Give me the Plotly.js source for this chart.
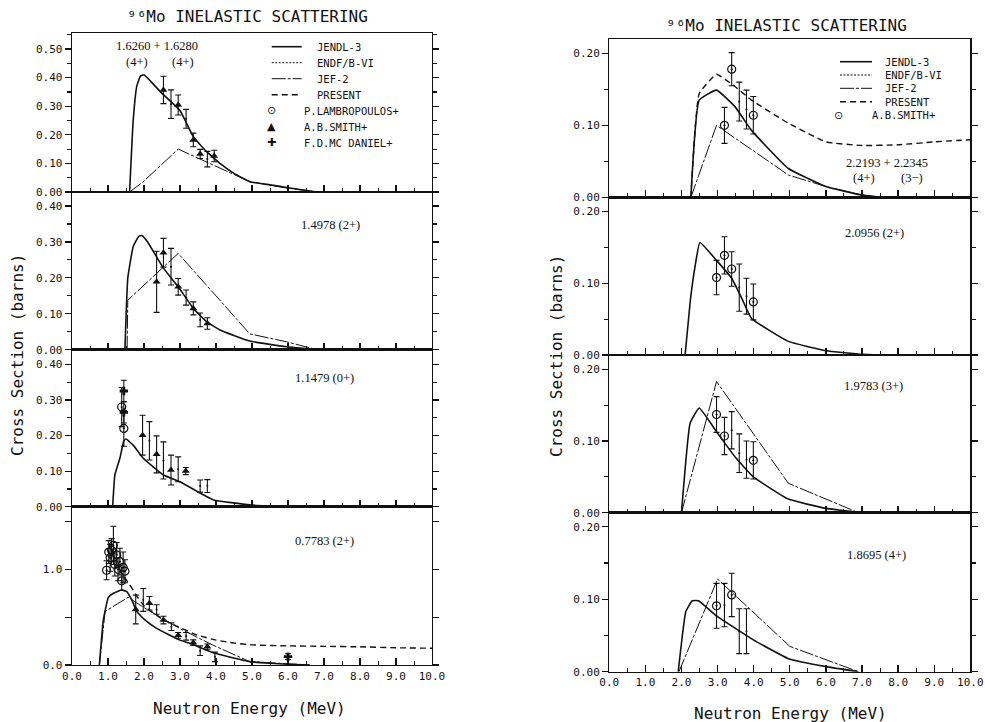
<!DOCTYPE html>
<html><head><meta charset="utf-8">
<script src="https://cdn.plot.ly/plotly-3.0.1.min.js"></script>
<style>html,body{margin:0;padding:0;background:#fff}</style>
</head><body>
<div id="chart" style="width:985px;height:722px"></div>
<script>
// ---------------- DATA ----------------
const titleText = "⁹⁶Mo INELASTIC SCATTERING";
const xTitle = "Neutron Energy (MeV)";
const yTitle = "Cross Section (barns)";
const xTickVals = [0,1,2,3,4,5,6,7,8,9,10];
const legendLeftNames = ["JENDL-3","ENDF/B-VI","JEF-2","PRESENT","P.LAMBROPOULOS+","A.B.SMITH+","F.D.MC DANIEL+"];
const legendRightNames = ["JENDL-3","ENDF/B-VI","JEF-2","PRESENT","A.B.SMITH+"];
const levelLabels = ["1.6260 + 1.6280","1.4978 (2+)","1.1479 (0+)","0.7783 (2+)","2.2193 + 2.2345","2.0956 (2+)","1.9783 (3+)","1.8695 (4+)"];
const spinLabels = ["(4+)","(4+)","(4+)","(3−)"];

// Left panel 1 : 1.6260 + 1.6280
const L1_jendl_x = [1.60,1.70,1.80,1.90,2.00,2.20,2.50,3.00,3.37,3.74,4.11,4.50,4.94,5.50,5.96,6.80];
const L1_jendl_y = [0,0.25,0.37,0.405,0.41,0.385,0.345,0.285,0.193,0.141,0.10,0.065,0.036,0.025,0.016,0];
const L1_jef_x = [1.60,1.98,2.95,4.94,5.96,6.80];
const L1_jef_y = [0,0.036,0.15,0.036,0.014,0];
const L1_smith_x = [2.54,2.95,3.37,3.56,3.95];
const L1_smith_y = [0.357,0.304,0.182,0.133,0.126];
const L1_smith_e = [0.048,0.035,0.024,0.016,0.02];
const L1_bar_x = [2.75,3.17,3.76];
const L1_bar_y = [0.307,0.256,0.115];
const L1_bar_e = [0.05,0.033,0.027];

// Left panel 2 : 1.4978 (2+)
const L2_jendl_x = [1.47,1.55,1.70,1.85,1.94,2.10,2.54,2.95,3.37,3.74,4.11,4.94,5.96,6.80];
const L2_jendl_y = [0,0.20,0.287,0.315,0.318,0.30,0.227,0.175,0.115,0.078,0.055,0.024,0.008,0];
const L2_jef_x = [1.53,1.55,2.95,4.94,5.96,6.80];
const L2_jef_y = [0,0.138,0.268,0.044,0.022,0];
const L2_smith_x = [2.35,2.54,2.95,3.37,3.76];
const L2_smith_y = [0.189,0.27,0.175,0.115,0.073];
const L2_smith_e = [0.085,0.04,0.023,0.018,0.016];
const L2_bar_x = [2.75,3.17,3.56];
const L2_bar_y = [0.231,0.145,0.083];
const L2_bar_e = [0.051,0.021,0.019];

// Left panel 3 : 1.1479 (0+)
const L3_jendl_x = [1.13,1.19,1.33,1.44,1.50,1.70,1.98,2.54,3.00,3.56,3.93,4.94,6.00];
const L3_jendl_y = [0,0.089,0.136,0.185,0.19,0.173,0.136,0.089,0.07,0.038,0.019,0.005,0];
const L3_smith_x = [1.96,2.35,2.75,3.16];
const L3_smith_y = [0.201,0.147,0.103,0.10];
const L3_smith_e = [0.056,0.052,0.042,0.01];
const L3_bar_x = [2.15,2.54,2.95,3.56,3.76];
const L3_bar_y = [0.185,0.13,0.105,0.058,0.058];
const L3_bar_e = [0.054,0.052,0.035,0.017,0.018];
const L3_lamb_x = [1.38,1.44];
const L3_lamb_y = [0.28,0.22];
const L3_lamb_e = [0.055,0.05];
const L3_mcd_x = [1.44,1.44];
const L3_mcd_y = [0.325,0.265];
const L3_mcd_e = [0.03,0.03];

// Left panel 4 : 0.7783 (2+)
const L4_jendl_x = [0.76,0.87,1.01,1.15,1.38,1.52,1.66,1.80,2.00,2.35,3.00,3.28,3.97,4.94,5.50,6.00,6.60];
const L4_jendl_y = [0,0.47,0.707,0.75,0.784,0.767,0.68,0.56,0.48,0.383,0.26,0.226,0.122,0.035,0.018,0.008,0];
const L4_jef_x = [0.76,0.92,1.56,2.00,3.00,3.90,4.94,6.00,6.60];
const L4_jef_y = [0,0.56,0.707,0.60,0.38,0.21,0.035,0.01,0];
const L4_present_x = [1.45,1.60,1.80,2.00,2.50,3.00,3.50,4.00,4.50,5.00,6.00,7.00,8.00,9.00,10.00];
const L4_present_y = [0.92,0.84,0.72,0.62,0.48,0.39,0.31,0.26,0.23,0.21,0.20,0.195,0.19,0.18,0.175];
const L4_lamb_x = [0.96,1.02,1.06,1.10,1.15,1.19,1.24,1.28,1.33,1.38,1.42,1.47];
const L4_lamb_y = [0.99,1.18,1.12,1.20,1.25,1.05,1.15,1.00,1.08,0.88,1.02,0.98];
const L4_lamb_e = [0.10,0.12,0.14,0.12,0.20,0.12,0.13,0.12,0.14,0.10,0.16,0.12];
const L4_smith_x = [1.77,2.15,2.54,2.95,3.37,3.76];
const L4_smith_y = [0.58,0.645,0.47,0.31,0.233,0.19];
const L4_smith_e = [0.15,0.07,0.04,0.03,0.03,0.03];
const L4_bar_x = [1.98,2.35,2.76,3.17,3.56,3.97];
const L4_bar_y = [0.68,0.58,0.40,0.30,0.15,0.085];
const L4_bar_e = [0.12,0.05,0.04,0.04,0.05,0.05];
const L4_mcd_x = [6.0];
const L4_mcd_y = [0.087];
const L4_mcd_e = [0.03];

// Right panel 1 : 2.2193 + 2.2345
const R1_jendl_x = [2.26,2.49,2.97,3.48,3.94,4.96,6.00,7.00,7.50];
const R1_jendl_y = [0,0.135,0.149,0.126,0.093,0.04,0.015,0.003,0];
const R1_jef_x = [2.26,2.97,4.96,6.00,7.00,7.50];
const R1_jef_y = [0,0.10,0.031,0.015,0.003,0];
const R1_present_x = [2.26,2.49,2.97,3.48,3.94,4.96,6.00,7.00,8.00,9.00,10.00];
const R1_present_y = [0,0.144,0.171,0.154,0.135,0.103,0.077,0.072,0.073,0.077,0.08];
const R1_smith_x = [3.19,3.39,3.99];
const R1_smith_y = [0.10,0.178,0.114];
const R1_smith_e = [0.025,0.023,0.026];
const R1_bar_x = [3.6,3.8];
const R1_bar_y = [0.133,0.122];
const R1_bar_e = [0.027,0.027];

// Right panel 2 : 2.0956 (2+)
const R2_jendl_x = [2.10,2.24,2.38,2.51,2.97,3.39,3.67,3.94,4.96,6.00,7.00,7.50];
const R2_jendl_y = [0,0.074,0.125,0.157,0.132,0.107,0.079,0.051,0.019,0.006,0.001,0];
const R2_smith_x = [2.97,3.19,3.39,3.99];
const R2_smith_y = [0.108,0.139,0.12,0.074];
const R2_smith_e = [0.024,0.026,0.024,0.025];
const R2_bar_x = [3.6,3.8];
const R2_bar_y = [0.094,0.082];
const R2_bar_e = [0.033,0.025];

// Right panel 3 : 1.9783 (3+)
const R3_jendl_x = [2.00,2.24,2.49,2.97,3.48,3.99,4.96,6.00,7.00];
const R3_jendl_y = [0,0.125,0.146,0.113,0.078,0.05,0.019,0.006,0];
const R3_jef_x = [2.00,2.97,4.96,6.90];
const R3_jef_y = [0,0.183,0.041,0];
const R3_smith_x = [2.97,3.19,3.99];
const R3_smith_y = [0.137,0.107,0.073];
const R3_smith_e = [0.025,0.026,0.026];
const R3_bar_x = [3.39,3.6,3.8];
const R3_bar_y = [0.115,0.083,0.074];
const R3_bar_e = [0.026,0.027,0.026];

// Right panel 4 : 1.8695 (4+)
const R4_jendl_x = [1.91,2.12,2.30,2.47,2.97,3.99,4.96,6.00,6.90];
const R4_jendl_y = [0,0.083,0.098,0.098,0.077,0.044,0.018,0.007,0];
const R4_jef_x = [1.93,3.00,5.00,6.90];
const R4_jef_y = [0,0.128,0.035,0];
const R4_smith_x = [2.97,3.39];
const R4_smith_y = [0.091,0.106];
const R4_smith_e = [0.031,0.03];
const R4_bar_x = [3.19,3.6,3.8];
const R4_bar_y = [0.092,0.056,0.056];
const R4_bar_e = [0.03,0.031,0.031];

// ---------------- LAYOUT HELPERS ----------------
const W = 985, H = 722;
const fx = p => p / W;
const fy = p => 1 - p / H;
const MONO = "DejaVu Sans Mono";
const SERIF = "Liberation Serif";
const INK = "#111";

const styles = {
  jendl: {color: INK, width: 1.6, dash: "solid"},
  endf: {color: INK, width: 1.0, dash: "2px,1.5px"},
  jef: {color: INK, width: 1.0, dash: "14px,2px,3px,2px"},
  present: {color: INK, width: 1.4, dash: "6px,4px"}
};

const traces = [];
function ax(i){ return i === 1 ? ["x","y"] : ["x"+i, "y"+i]; }
function addLine(x, y, i, st){
  const [xa, ya] = ax(i);
  traces.push({type:"scatter", mode:"lines", x, y, xaxis:xa, yaxis:ya, line: Object.assign({shape:"spline", smoothing:0.35}, st), hoverinfo:"skip", showlegend:false});
}
function addLinear(x, y, i, st){
  const [xa, ya] = ax(i);
  traces.push({type:"scatter", mode:"lines", x, y, xaxis:xa, yaxis:ya, line: st, hoverinfo:"skip", showlegend:false});
}
function addPts(x, y, e, i, marker){
  const [xa, ya] = ax(i);
  traces.push({type:"scatter", mode:"markers", x, y, xaxis:xa, yaxis:ya, marker,
    error_y:{type:"data", array:e, visible:true, color:INK, thickness:1.1, width:3},
    hoverinfo:"skip", showlegend:false});
}
const mTri = {symbol:"triangle-up", size:7, color:INK};
const mCirc = {symbol:"circle-open-dot", size:8, color:INK, line:{width:1.2, color:INK}};
const mCross = {symbol:"cross", size:7, color:INK};
const mBar = {symbol:"circle", size:2, color:INK};

// Left
addLine(L1_jendl_x, L1_jendl_y, 1, styles.jendl);
addLinear(L1_jef_x, L1_jef_y, 1, styles.jef);
addPts(L1_bar_x, L1_bar_y, L1_bar_e, 1, mBar);
addPts(L1_smith_x, L1_smith_y, L1_smith_e, 1, mTri);

addLine(L2_jendl_x, L2_jendl_y, 2, styles.jendl);
addLinear(L2_jef_x, L2_jef_y, 2, styles.jef);
addPts(L2_bar_x, L2_bar_y, L2_bar_e, 2, mBar);
addPts(L2_smith_x, L2_smith_y, L2_smith_e, 2, mTri);

addLine(L3_jendl_x, L3_jendl_y, 3, styles.jendl);
addPts(L3_bar_x, L3_bar_y, L3_bar_e, 3, mBar);
addPts(L3_smith_x, L3_smith_y, L3_smith_e, 3, mTri);
addPts(L3_lamb_x, L3_lamb_y, L3_lamb_e, 3, mCirc);
addPts(L3_mcd_x, L3_mcd_y, L3_mcd_e, 3, mCross);

addLine(L4_jendl_x, L4_jendl_y, 4, styles.jendl);
addLinear(L4_jef_x, L4_jef_y, 4, styles.jef);
addLine(L4_present_x, L4_present_y, 4, styles.present);
addPts(L4_lamb_x, L4_lamb_y, L4_lamb_e, 4, mCirc);
addPts(L4_bar_x, L4_bar_y, L4_bar_e, 4, mBar);
addPts(L4_smith_x, L4_smith_y, L4_smith_e, 4, mTri);
addPts(L4_mcd_x, L4_mcd_y, L4_mcd_e, 4, mCross);

// Right
addLine(R1_jendl_x, R1_jendl_y, 5, styles.jendl);
addLinear(R1_jef_x, R1_jef_y, 5, styles.jef);
addLine(R1_present_x, R1_present_y, 5, styles.present);
addPts(R1_bar_x, R1_bar_y, R1_bar_e, 5, mBar);
addPts(R1_smith_x, R1_smith_y, R1_smith_e, 5, mCirc);

addLine(R2_jendl_x, R2_jendl_y, 6, styles.jendl);
addPts(R2_bar_x, R2_bar_y, R2_bar_e, 6, mBar);
addPts(R2_smith_x, R2_smith_y, R2_smith_e, 6, mCirc);

addLine(R3_jendl_x, R3_jendl_y, 7, styles.jendl);
addLinear(R3_jef_x, R3_jef_y, 7, styles.jef);
addPts(R3_bar_x, R3_bar_y, R3_bar_e, 7, mBar);
addPts(R3_smith_x, R3_smith_y, R3_smith_e, 7, mCirc);

addLine(R4_jendl_x, R4_jendl_y, 8, styles.jendl);
addLinear(R4_jef_x, R4_jef_y, 8, styles.jef);
addPts(R4_bar_x, R4_bar_y, R4_bar_e, 8, mBar);
addPts(R4_smith_x, R4_smith_y, R4_smith_e, 8, mCirc);

// ---------------- AXES ----------------
const layout = {
  width: W, height: H, margin:{l:0,r:0,t:0,b:0},
  paper_bgcolor:"#fff", plot_bgcolor:"#fff", showlegend:false,
  font:{family:MONO, size:11, color:INK},
  annotations:[], shapes:[]
};
const colX = {L:[72,432], R:[609.3,970.3]};
const panels = [
  {i:1, col:"L", pix:[33,192], top:0.556, kind:"a"},
  {i:2, col:"L", pix:[192,349.7], top:0.439, kind:"a"},
  {i:3, col:"L", pix:[349.7,506.7], top:0.441, kind:"a"},
  {i:4, col:"L", pix:[506.7,665], top:1.654, kind:"b", bottom:true},
  {i:5, col:"R", pix:[39,197.3], top:0.22, kind:"c"},
  {i:6, col:"R", pix:[197.3,355], top:0.22, kind:"c"},
  {i:7, col:"R", pix:[355,512.7], top:0.22, kind:"c"},
  {i:8, col:"R", pix:[512.7,671.7], top:0.2196, kind:"c", bottom:true}
];
panels.forEach(p => {
  const xk = p.i === 1 ? "xaxis" : "xaxis" + p.i;
  const yk = p.i === 1 ? "yaxis" : "yaxis" + p.i;
  const yref = p.i === 1 ? "y" : "y" + p.i;
  const xref = p.i === 1 ? "x" : "x" + p.i;
  layout[xk] = {
    domain:[fx(colX[p.col][0]), fx(colX[p.col][1])], range:[0,10], anchor:yref,
    showline:true, mirror:true, linecolor:INK, linewidth:1.3,
    ticks:"inside", tickvals:xTickVals, ticklen:7, tickwidth:1.2, tickcolor:INK,
    minor:{tickvals:[0.5,1.5,2.5,3.5,4.5,5.5,6.5,7.5,8.5,9.5], ticks:"inside", ticklen:4, tickwidth:1, tickcolor:INK},
    showticklabels: !!p.bottom, tickformat:".1f",
    tickfont:{family:MONO, size:11, color:INK},
    showgrid:false, zeroline:false, fixedrange:true
  };
  const y = {
    domain:[fy(p.pix[1]), fy(p.pix[0])], range:[0,p.top], anchor:xref,
    showline:true, mirror:"ticks", linecolor:INK, linewidth:1.3,
    ticks:"outside", ticklen:6, tickwidth:1.2, tickcolor:INK,
    tickfont:{family:MONO, size:11, color:INK},
    showgrid:false, zeroline:false, fixedrange:true
  };
  if (p.kind === "a") {
    y.tickvals = [0,0.1,0.2,0.3,0.4,0.5].filter(v => v <= p.top);
    y.tickformat = ".2f";
    y.minor = {tickvals:[0.05,0.15,0.25,0.35,0.45,0.55].filter(v=>v<=p.top), ticks:"outside", ticklen:4, tickcolor:INK};
  } else if (p.kind === "b") {
    y.tickvals = [0,1];
    y.tickformat = ".1f";
    y.minor = {tickvals:[0.5,1.5], ticks:"outside", ticklen:6, tickwidth:1.2, tickcolor:INK};
  } else {
    y.tickvals = [0,0.1,0.2];
    y.tickformat = ".2f";
    y.minor = {tickvals:[0.05,0.15], ticks:"outside", ticklen:4, tickcolor:INK};
  }
  layout[yk] = y;
});

// ---------------- TEXT ----------------
const A = layout.annotations;
function txt(text, x, y, font, extra){
  A.push(Object.assign({text, x:fx(x), y:fy(y), xref:"paper", yref:"paper", showarrow:false, xanchor:"center", yanchor:"middle", font}, extra||{}));
}
const fTitle = {family:MONO, size:16, color:INK};
txt(titleText, 247, 17, fTitle);
txt(titleText, 786, 25, fTitle);
txt(xTitle, 250, 708, fTitle);
txt(xTitle, 790, 713, fTitle);
txt(yTitle, 17, 355, fTitle, {textangle:-90});
txt(yTitle, 557, 356, fTitle, {textangle:-90});

const fSerif = {family:SERIF, size:12.5, color:INK};
txt(levelLabels[0], 157, 46, fSerif);
txt(spinLabels[0], 137, 62, fSerif);
txt(spinLabels[1], 183, 62, fSerif);
txt(levelLabels[1], 330, 225, fSerif);
txt(levelLabels[2], 324, 378, fSerif);
txt(levelLabels[3], 324, 541, fSerif);
txt(levelLabels[4], 887, 163, fSerif);
txt(spinLabels[2], 864, 178, fSerif);
txt(spinLabels[3], 912, 178, fSerif);
txt(levelLabels[5], 874, 233, fSerif);
txt(levelLabels[6], 873, 386, fSerif);
txt(levelLabels[7], 876, 555, fSerif);

// ---------------- LEGENDS (drawn) ----------------
const fLeg = {family:MONO, size:10.5, color:INK};
const lineStyles = [styles.jendl, styles.endf, styles.jef, styles.present];
function legLine(x0, x1, y, st){
  layout.shapes.push({type:"line", xref:"paper", yref:"paper", x0:fx(x0), x1:fx(x1), y0:fy(y), y1:fy(y),
    line:{color:st.color, width:st.width, dash:st.dash}});
}
const symChars = ["⊙","▲","✚"];
const leftRows = [46.7,62.7,78.7,94.7,110.7,126.7,142.7];
for (let k=0;k<4;k++){
  legLine(271.7, 301.7, leftRows[k], lineStyles[k]);
  txt(legendLeftNames[k], 315, leftRows[k], fLeg, {xanchor:"left"});
}
for (let k=4;k<7;k++){
  txt(symChars[k-4], 271, leftRows[k], {family:"DejaVu Sans", size:11, color:INK});
  txt(legendLeftNames[k], 302, leftRows[k], fLeg, {xanchor:"left"});
}
const rightRows = [61.7,75,88.3,101.7,115];
for (let k=0;k<4;k++){
  legLine(840, 872, rightRows[k], lineStyles[k]);
  txt(legendRightNames[k], 883, rightRows[k], fLeg, {xanchor:"left"});
}
txt(symChars[0], 838, rightRows[4], {family:"DejaVu Sans", size:11, color:INK});
txt(legendRightNames[4], 870, rightRows[4], fLeg, {xanchor:"left"});

Plotly.newPlot("chart", traces, layout, {staticPlot:true, displayModeBar:false});
</script>
</body></html>
